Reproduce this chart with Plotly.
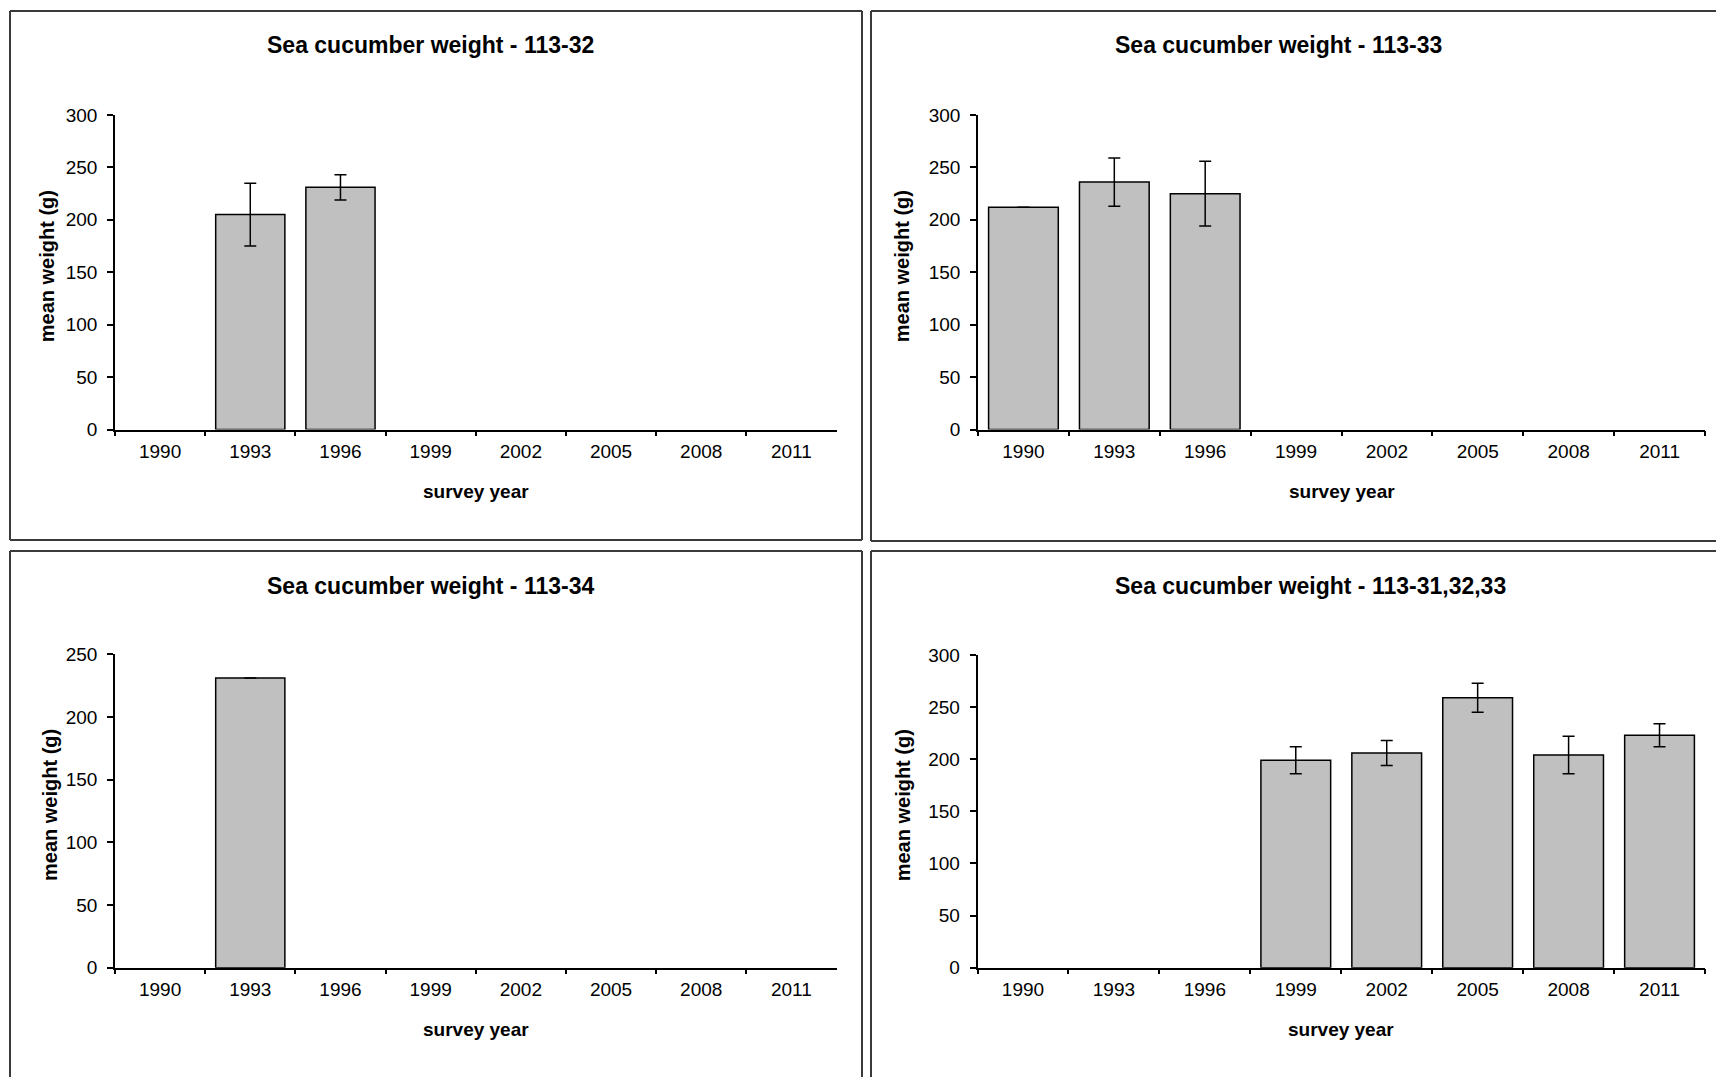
import plotly.graph_objects as go

# ---------------- data ----------------
years = ["1990", "1993", "1996", "1999", "2002", "2005", "2008", "2011"]

titles = [
    "Sea cucumber weight - 113-32",
    "Sea cucumber weight - 113-33",
    "Sea cucumber weight - 113-34",
    "Sea cucumber weight - 113-31,32,33",
]

w_113_32 = [None, 205, 231, None, None, None, None, None]
e_113_32 = [None, 30, 12, None, None, None, None, None]

w_113_33 = [212, 236, 225, None, None, None, None, None]
e_113_33 = [None, 23, 31, None, None, None, None, None]

w_113_34 = [None, 231, None, None, None, None, None, None]
e_113_34 = [None, None, None, None, None, None, None, None]

w_113_all = [None, None, None, 199, 206, 259, 204, 223]
e_113_all = [None, None, None, 13, 12, 14, 18, 11]

y_max = [300, 300, 250, 300]
y_title = "mean weight (g)"
x_title = "survey year"

# ---------------- layout geometry (pixels) ----------------
W, H = 1716, 1077
FONT = "Liberation Sans, Arial, sans-serif"


def px(x):
    return x / W


def py(y):
    return 1 - y / H


# plot areas: (x0, x1, ytop, ybottom)
plots = [
    (115, 836.5, 115, 429.5),
    (978, 1705, 115, 429.5),
    (115, 836.5, 654.3, 967.7),
    (977.5, 1705, 655, 967.7),
]
# chart-area borders (x0, x1, ytop, ybottom); values past the page edge are clipped
borders = [
    (10, 862, 11, 540),
    (871, 1716, 11, 541),
    (10, 862, 551, 1077),
    (871, 1716, 551, 1077),
]
title_pos = [(430, 45), (1278, 45), (430, 586), (1310, 586)]
ytitle_x = [47, 902, 50, 903]

series = [
    (w_113_32, e_113_32),
    (w_113_33, e_113_33),
    (w_113_34, e_113_34),
    (w_113_all, e_113_all),
]

fig = go.Figure()

for i, (vals, errs) in enumerate(series):
    n = "" if i == 0 else str(i + 1)
    fig.add_trace(go.Bar(
        x=years, y=vals,
        xaxis="x" + n, yaxis="y" + n,
        marker=dict(color="#C0C0C0", line=dict(color="black", width=1.5)),
        error_y=dict(type="data", array=errs, visible=True,
                     color="black", thickness=1.5, width=6),
        showlegend=False,
        hoverinfo="x+y",
    ))

    x0, x1, yt, yb = plots[i]
    fig.update_layout(**{
        "xaxis" + n: dict(
            domain=[px(x0), px(x1)],
            anchor="y" + n,
            type="category",
            categoryorder="array", categoryarray=years,
            range=[-0.5, 7.5],
            tickson="boundaries",
            ticks="outside", ticklen=5, tickwidth=1.5, tickcolor="black",
            showline=True, linecolor="black", linewidth=1.5,
            showgrid=False, zeroline=False, automargin=False,
            tickfont=dict(family=FONT, size=19, color="black"),
            ticklabelstandoff=4,
            fixedrange=True,
        ),
        "yaxis" + n: dict(
            domain=[py(yb), py(yt)],
            anchor="x" + n,
            range=[0, y_max[i]],
            dtick=50, tick0=0,
            ticks="outside", ticklen=6, tickwidth=1.5, tickcolor="black",
            showline=True, linecolor="black", linewidth=1.5,
            showgrid=False, zeroline=False, automargin=False,
            tickfont=dict(family=FONT, size=19, color="black"),
            ticklabelstandoff=6,
            fixedrange=True,
        ),
    })

    # border of chart area (only the edges that lie on the page)
    bx0, bx1, by0, by1 = borders[i]
    edges = [(bx0, by0, bx1, by0), (bx0, by0, bx0, by1)]
    if bx1 < W:
        edges.append((bx1, by0, bx1, by1))
    if by1 < H:
        edges.append((bx0, by1, bx1, by1))
    for ex0, ey0, ex1, ey1 in edges:
        fig.add_shape(type="line", xref="paper", yref="paper",
                      x0=px(ex0), x1=px(ex1), y0=py(ey0), y1=py(ey1),
                      line=dict(color="#3a3a3a", width=2), layer="below")

    # chart title
    tx, ty = title_pos[i]
    fig.add_annotation(text="<b>%s</b>" % titles[i], xref="paper", yref="paper",
                       x=px(tx), y=py(ty), xanchor="center", yanchor="middle",
                       showarrow=False,
                       font=dict(family=FONT, size=23, color="black"))
    # y axis title
    fig.add_annotation(text="<b>%s</b>" % y_title, xref="paper", yref="paper",
                       x=px(ytitle_x[i]), y=py((yt + yb) / 2 - 6),
                       xanchor="center", yanchor="middle", textangle=-90,
                       showarrow=False,
                       font=dict(family=FONT, size=20, color="black"))
    # x axis title
    fig.add_annotation(text="<b>%s</b>" % x_title, xref="paper", yref="paper",
                       x=px((x0 + x1) / 2), y=py(yb + 62),
                       xanchor="center", yanchor="middle",
                       showarrow=False,
                       font=dict(family=FONT, size=19, color="black"))

fig.update_layout(
    width=W, height=H,
    margin=dict(l=0, r=0, t=0, b=0, pad=0, autoexpand=False),
    paper_bgcolor="white", plot_bgcolor="white",
    bargap=0.233,
    font=dict(family=FONT, color="black"),
)

fig.write_html("out.html")
